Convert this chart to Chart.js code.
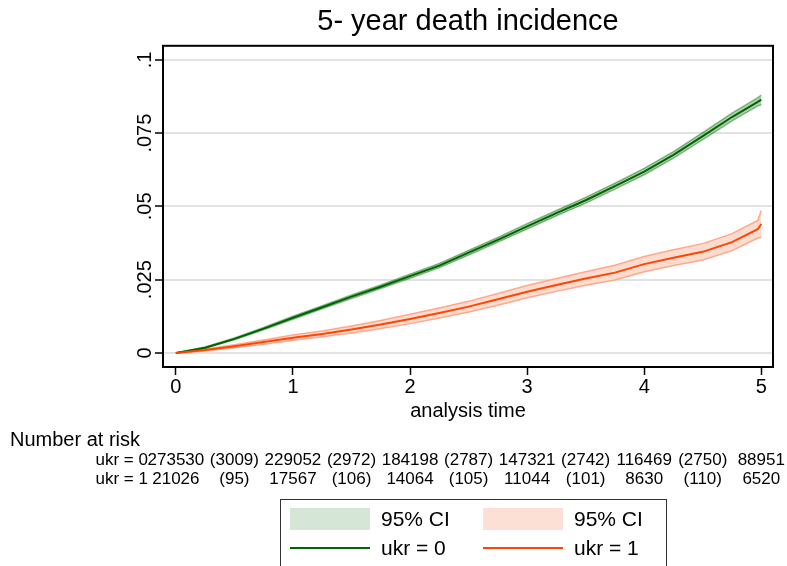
<!DOCTYPE html>
<html>
<head>
<meta charset="utf-8">
<script src="https://cdn.jsdelivr.net/npm/chart.js@4/dist/chart.umd.min.js"></script>
<style>
body{margin:0;overflow:hidden;background:#fff;font-family:"Liberation Sans",Arial,sans-serif;}
#wrap{position:relative;width:787px;height:566px;overflow:hidden;}
.sw{position:absolute;width:80px;height:22px;}
.ln{position:absolute;width:80px;height:2px;}
.tx{position:absolute;font-size:21px;line-height:22px;color:#000;white-space:nowrap;}
</style>
</head>
<body>
<div id="wrap">
<canvas id="myChart" width="787" height="566"></canvas>
<!-- legend, stata style box -->
<div style="position:absolute;left:280px;top:499px;width:385px;height:90px;border:1px solid #333;"></div>
<div class="sw" style="left:290px;top:508px;background:#d6e6d6;"></div>
<div class="tx" style="left:381px;top:508px;">95% CI</div>
<div class="sw" style="left:483px;top:508px;background:#fde0d5;"></div>
<div class="tx" style="left:574px;top:508px;">95% CI</div>
<div class="ln" style="left:290px;top:547px;background:#006400;"></div>
<div class="tx" style="left:381px;top:537px;">ukr = 0</div>
<div class="ln" style="left:483px;top:547px;background:#ff4500;"></div>
<div class="tx" style="left:574px;top:537px;">ukr = 1</div>
</div>
<script>
// analysis time (years)
var times = [0, 0.25, 0.5, 0.75, 1, 1.25, 1.5, 1.75, 2, 2.25, 2.5, 2.75, 3, 3.25, 3.5, 3.75, 4, 4.25, 4.5, 4.75, 4.97, 5];

// ukr = 0
var ukr0   = [0, .0018, .0048, .0083, .0120, .0156, .0192, .0226, .0262, .0298, .0342, .0386, .0432, .0477, .0521, .0569, .0619, .0676, .0740, .0805, .0857, .0864];
var ukr0Hi = [0, .0020, .0051, .0087, .0125, .0161, .0198, .0232, .0269, .0305, .0350, .0394, .0441, .0486, .0531, .0579, .0630, .0687, .0752, .0818, .0871, .0880];
var ukr0Lo = [0, .0016, .0045, .0079, .0115, .0151, .0186, .0220, .0255, .0291, .0334, .0378, .0423, .0468, .0511, .0559, .0608, .0665, .0728, .0792, .0843, .0847];

// ukr = 1
var ukr1   = [0, .0010, .0023, .0037, .0052, .0065, .0080, .0097, .0116, .0136, .0158, .0183, .0209, .0232, .0254, .0274, .0303, .0325, .0345, .0378, .0422, .0440];
var ukr1Hi = [0, .0013, .0028, .0044, .0061, .0075, .0092, .0111, .0132, .0153, .0176, .0203, .0230, .0254, .0277, .0299, .0329, .0352, .0373, .0407, .0452, .0486];
var ukr1Lo = [0, .0007, .0018, .0030, .0043, .0055, .0068, .0083, .0100, .0119, .0140, .0163, .0188, .0210, .0231, .0249, .0277, .0298, .0317, .0349, .0392, .0395];

var xTicks = [0, 1, 2, 3, 4, 5];
var yTicks = [0, .025, .05, .075, .1];
var yTickLabels = ['0', '.025', '.05', '.075', '.1'];

// number at risk table
var riskTimes = [0, 1, 2, 3, 4, 5];
var riskUkr0 = [273530, 229052, 184198, 147321, 116469, 88951];
var riskUkr1 = [21026, 17567, 14064, 11044, 8630, 6520];
var eventTimes = [0.5, 1.5, 2.5, 3.5, 4.5];
var eventsUkr0 = [3009, 2972, 2787, 2742, 2750];
var eventsUkr1 = [95, 106, 105, 101, 110];

function pts(ys){
    return times.map(function(t, i){ return {x: t, y: ys[i]}; });
}

var riskTable = {
    id: 'riskTable',
    afterDraw: function(chart){
        var ctx = chart.ctx, sx = chart.scales.x, a = chart.chartArea;
        ctx.save();
        // plot frame
        ctx.strokeStyle = '#000';
        ctx.lineWidth = 2;
        ctx.strokeRect(a.left, a.top, a.right - a.left, a.bottom - a.top);

        ctx.fillStyle = '#000';
        ctx.textBaseline = 'middle';
        ctx.font = '20px "Liberation Sans", Arial';
        ctx.textAlign = 'left';
        ctx.fillText('Number at risk', 10, 440);

        ctx.font = '17px "Liberation Sans", Arial';
        ctx.textAlign = 'right';
        var x0 = sx.getPixelForValue(0);
        ctx.fillText('ukr = 0', x0 - 28, 460);
        ctx.fillText('ukr = 1', x0 - 28, 479);
        ctx.textAlign = 'center';
        riskTimes.forEach(function(t, i){
            ctx.fillText(String(riskUkr0[i]), sx.getPixelForValue(t), 460);
            ctx.fillText(String(riskUkr1[i]), sx.getPixelForValue(t), 479);
        });
        eventTimes.forEach(function(t, i){
            ctx.fillText('(' + eventsUkr0[i] + ')', sx.getPixelForValue(t), 460);
            ctx.fillText('(' + eventsUkr1[i] + ')', sx.getPixelForValue(t), 479);
        });
        ctx.restore();
    }
};

Chart.defaults.font.family = '"Liberation Sans", Arial, sans-serif';
Chart.defaults.color = '#000';

var ctx = document.getElementById('myChart').getContext('2d');
var chart = new Chart(ctx, {
    type: 'line',
    data: {
        datasets: [
            // CI bands go under the estimate lines (higher order = drawn first)
            {label: 'ukr0 lo', data: pts(ukr0Lo), order: 2, borderColor: 'rgba(0,110,0,0.45)', borderWidth: 1.5, fill: false},
            {label: '95% CI', data: pts(ukr0Hi), order: 2, borderColor: 'rgba(0,110,0,0.45)', borderWidth: 1.5, fill: '-1', backgroundColor: 'rgba(0,110,0,0.3)'},
            {label: 'ukr1 lo', data: pts(ukr1Lo), order: 2, borderColor: '#ffa88c', borderWidth: 1.5, fill: false},
            {label: '95% CI', data: pts(ukr1Hi), order: 2, borderColor: '#ffa88c', borderWidth: 1.5, fill: '-1', backgroundColor: '#fddcd0'},
            {label: 'ukr = 0', data: pts(ukr0), order: 1, borderColor: '#006400', borderWidth: 2, fill: false},
            {label: 'ukr = 1', data: pts(ukr1), order: 0, borderColor: '#ff4500', borderWidth: 2, fill: false}
        ]
    },
    options: {
        responsive: false,
        animation: false,
        layout: {padding: {right: 14}},
        elements: {point: {radius: 0}, line: {tension: 0}},
        plugins: {
            legend: {display: false},
            tooltip: {enabled: false},
            title: {
                display: true,
                text: '5- year death incidence',
                fullSize: false,
                color: '#000',
                font: {size: 29, weight: 'normal'},
                padding: {top: 5, bottom: 6}
            }
        },
        scales: {
            x: {
                type: 'linear',
                min: -0.11,
                max: 5.1,
                afterBuildTicks: function(s){ s.ticks = xTicks.map(function(v){ return {value: v}; }); },
                afterFit: function(s){ s.height = 199; },
                border: {display: false},
                grid: {drawOnChartArea: false, tickLength: 8, tickColor: '#000', tickWidth: 1.5},
                ticks: {color: '#000', font: {size: 20}, padding: 0, maxRotation: 0},
                title: {display: true, text: 'analysis time', color: '#000', font: {size: 20}, padding: {top: 0, bottom: 143}}
            },
            y: {
                min: -0.0048,
                max: 0.1048,
                afterBuildTicks: function(s){ s.ticks = yTicks.map(function(v){ return {value: v}; }); },
                afterFit: function(s){ s.width = 163; },
                border: {display: false},
                grid: {color: '#e2e2e2', lineWidth: 2, tickLength: 8, tickColor: '#000', tickWidth: 1.5},
                ticks: {
                    color: '#000', font: {size: 20}, minRotation: 90, maxRotation: 90,
                    crossAlign: 'center', padding: -10,
                    callback: function(v){ var i = yTicks.indexOf(v); return i >= 0 ? yTickLabels[i] : ''; }
                }
            }
        }
    },
    plugins: [riskTable]
});
</script>
</body>
</html>
